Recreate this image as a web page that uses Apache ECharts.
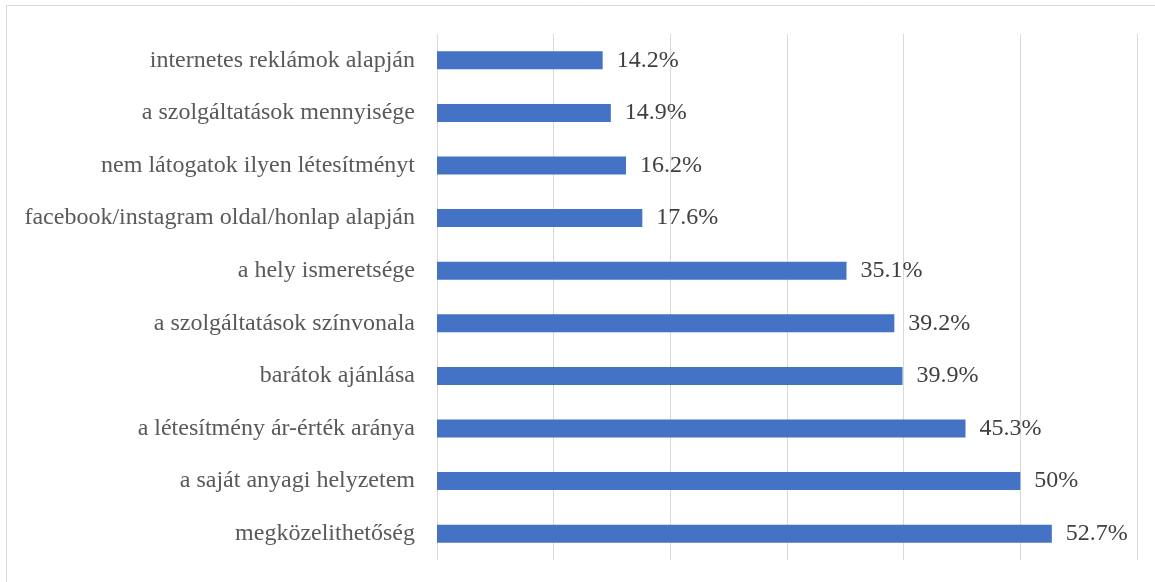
<!DOCTYPE html>
<html>
<head>
<meta charset="utf-8">
<script src="https://cdn.jsdelivr.net/npm/echarts@6/dist/echarts.min.js"></script>
<style>
  html, body { margin: 0; padding: 0; background: #fff; }
  #chart { width: 1155px; height: 582px; }
</style>
</head>
<body>
<div id="chart"></div>
<script>
// kategóriák alulról felfelé (ECharts a kategóriatengelyt alulról rajzolja)
const categories = [
  "megközelithetőség",
  "a saját anyagi helyzetem",
  "a létesítmény ár-érték aránya",
  "barátok ajánlása",
  "a szolgáltatások színvonala",
  "a hely ismeretsége",
  "facebook/instagram oldal/honlap alapján",
  "nem látogatok ilyen létesítményt",
  "a szolgáltatások mennyisége",
  "internetes reklámok alapján"
];
const values = [52.7, 50, 45.3, 39.9, 39.2, 35.1, 17.6, 16.2, 14.9, 14.2];

const chart = echarts.init(document.getElementById("chart"));
chart.setOption({
  animation: false,
  graphic: [{
    type: "rect",
    shape: { x: 6.5, y: 5.5, width: 1200, height: 700 },
    style: { fill: "none", stroke: "#d9d9d9", lineWidth: 1 }
  }],
  grid: { left: 437, right: 18, top: 34, bottom: 22 },
  xAxis: {
    type: "value",
    min: 0,
    max: 60,
    interval: 10,
    axisLabel: { show: false },
    axisLine: { show: false },
    axisTick: { show: false },
    splitLine: { show: true, lineStyle: { color: "#d9d9d9", width: 1 } }
  },
  yAxis: {
    type: "category",
    data: categories,
    axisLine: { show: false },
    axisTick: { show: false },
    axisLabel: {
      margin: 22,
      fontFamily: "Liberation Serif",
      fontSize: 24,
      color: "#595959"
    }
  },
  series: [{
    type: "bar",
    data: values,
    barWidth: 18,
    itemStyle: { color: "#4472c4" },
    label: {
      show: true,
      position: "right",
      distance: 14,
      formatter: p => p.value + "%",
      fontFamily: "Liberation Serif",
      fontSize: 24,
      color: "#404040"
    }
  }]
});
</script>
</body>
</html>
